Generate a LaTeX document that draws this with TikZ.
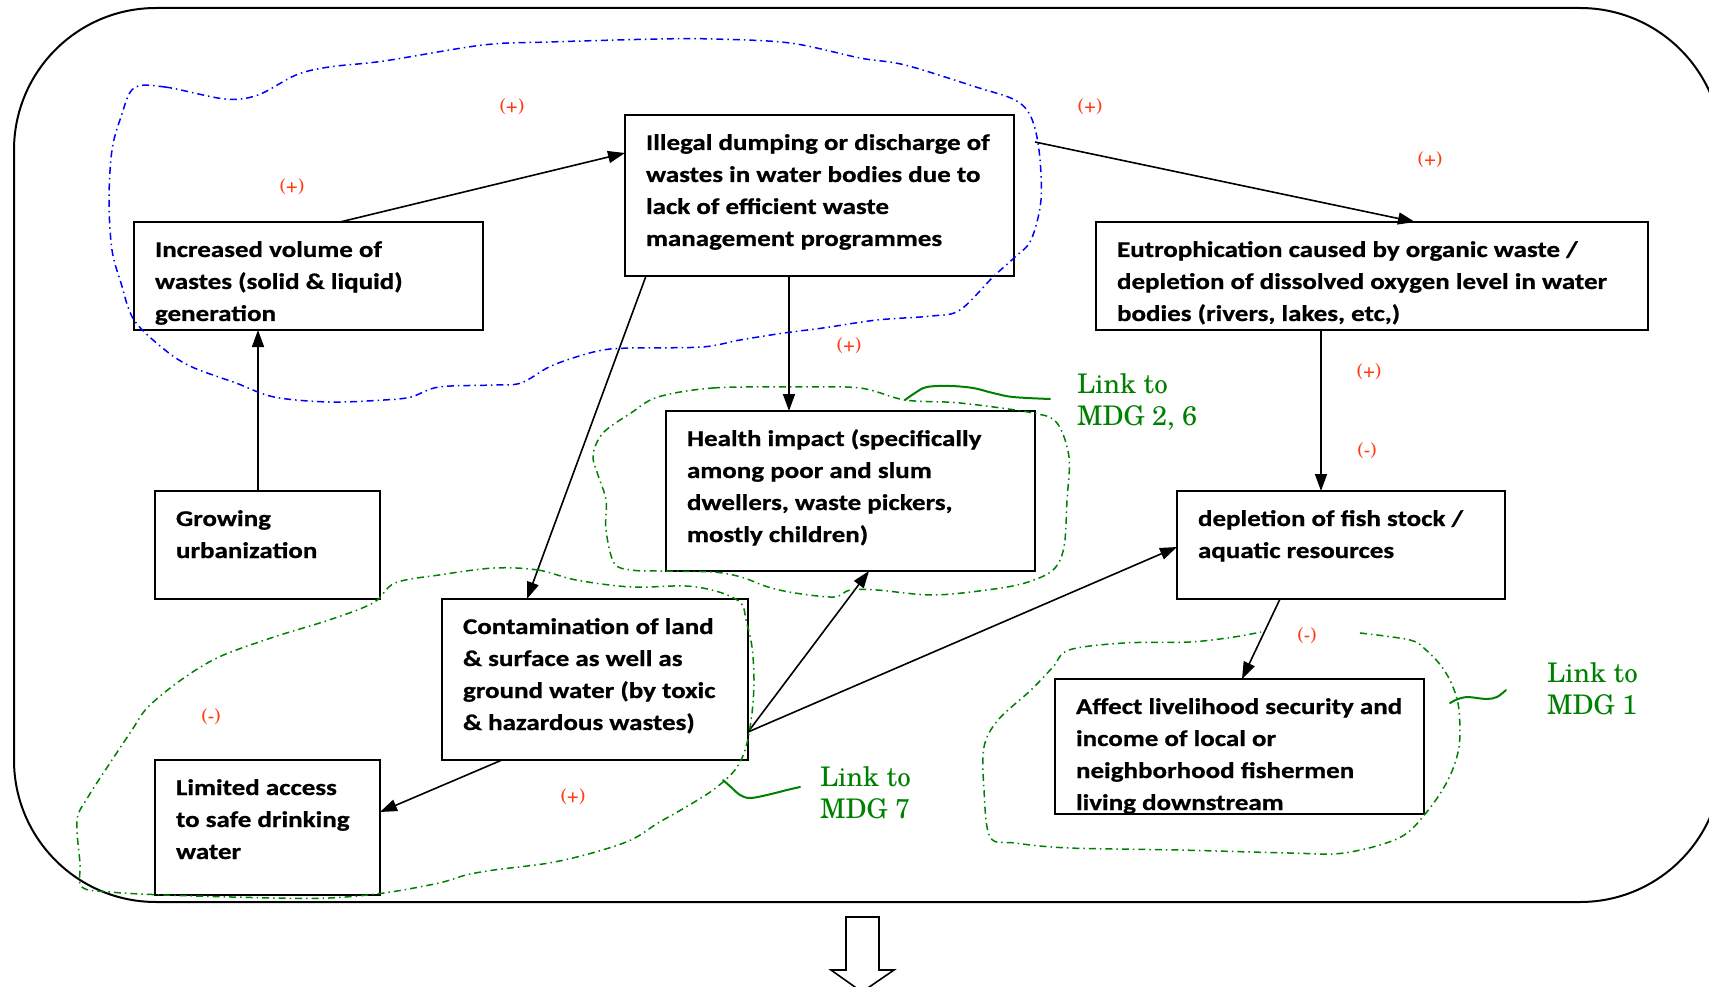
\documentclass[tikz,border=0pt]{standalone}
\usepackage{fontspec}
\newfontfamily\carl{Carlito}[FakeStretch=1.2, BoldFeatures={FakeBold=0.8}]
\newfontfamily\schola{texgyreschola-regular}[Extension=.otf]
\usetikzlibrary{arrows.meta,calc}
\definecolor{lblred}{RGB}{255,60,20}
\definecolor{lgreen}{RGB}{0,128,0}
\definecolor{lblue}{RGB}{0,0,255}
\newcommand{\bt}[3]{\begin{minipage}[c][#2pt][t]{#1pt}\rule{0pt}{35pt}\hspace*{21pt}\begin{tabular}[t]{@{}l@{}}#3\end{tabular}\end{minipage}}
\tikzset{
  bx/.style={draw, line width=2pt, inner sep=0pt, outer sep=0pt, anchor=north west, font=\carl\bfseries\fontsize{22.5}{32}\selectfont},
  arr/.style={line width=1.6pt, -{Triangle[length=17pt,width=12pt]}},
  sgn/.style={text=lblred, font=\schola\fontsize{19}{22}\selectfont, inner sep=0pt},
  lnk/.style={text=lgreen, font=\schola\fontsize{27}{32}\selectfont, inner sep=0pt, anchor=base west},
  loopb/.style={draw=lblue, line width=1.5pt, dash pattern=on 7pt off 4pt on 1.5pt off 4pt},
  loopg/.style={draw=lgreen, line width=1.5pt, dash pattern=on 7pt off 4pt on 1.5pt off 4pt},
  sq/.style={draw=lgreen, line width=2pt, line cap=round}
}
\begin{document}
\begin{tikzpicture}[x=1pt,y=-1pt]
\useasboundingbox (0,0) rectangle (1709,987);
\clip (0,0) rectangle (1709,987);
% outer frame
\draw[line width=2pt, rounded corners=142pt] (14,8) rectangle (1722,902);
% boxes
\node[bx] (b1) at (134,222) {\bt{349}{108}{Increased volume of\\wastes (solid \& liquid)\\generation}};
\node[bx] (b2) at (625,115) {\bt{389}{161}{Illegal dumping or discharge of\\wastes in water bodies due to\\lack of efficient waste\\management programmes}};
\node[bx] (eu) at (1096,222) {\bt{552}{108}{Eutrophication caused by organic waste /\\depletion of dissolved oxygen level in water\\bodies (rivers, lakes, etc,)}};
\node[bx] (he) at (666,411) {\bt{369}{160}{Health impact (specifically\\among poor and slum\\dwellers, waste pickers,\\mostly children)}};
\node[bx] (gr) at (155,491) {\bt{225}{108}{Growing\\urbanization}};
\node[bx] (fi) at (1177,491) {\bt{328}{108}{depletion of fish stock /\\aquatic resources}};
\node[bx] (co) at (442,599) {\bt{306}{161}{Contamination of land\\\& surface as well as\\ground water (by toxic\\\& hazardous wastes)}};
\node[bx] (li) at (155,760) {\bt{225}{135}{Limited access\\to safe drinking\\water}};
\node[bx] (af) at (1055,679) {\bt{369}{135}{Affect livelihood security and\\income of local or\\neighborhood fishermen\\living downstream}};
% arrows
\draw[arr] ($(b1.north west)+(206,0)$) -- ($(b2.north west)+(0,38)$);
\draw[arr] ($(b2.north west)+(410,27)$) -- ($(eu.north west)+(319,0)$);
\draw[arr] ($(b2.south west)+(164,0)$) -- ($(he.north west)+(123,0)$);
\draw[arr] ($(b2.south west)+(21,0)$) -- ($(co.north west)+(85,0)$);
\draw[arr] ($(gr.north west)+(103,0)$) -- ($(b1.south west)+(124,0)$);
\draw[arr] ($(eu.south west)+(225,0)$) -- ($(fi.north west)+(144,0)$);
\draw[arr] ($(co.north east)+(0,133)$) -- ($(he.south west)+(203,0)$);
\draw[arr] ($(co.north east)+(0,133)$) -- ($(fi.north west)+(0,56)$);
\draw[arr] ($(co.south west)+(60,0)$) -- ($(li.north east)+(0,52)$);
\draw[arr] ($(fi.south west)+(103,0)$) -- ($(af.north west)+(187,0)$);
% signs
\node[sgn] (s1) at (512,107) {(+)};
\node[sgn] (s2) at (292,187) {(+)};
\node[sgn] (s3) at (1090,107) {(+)};
\node[sgn] (s4) at (1430,160) {(+)};
\node[sgn] (s5) at (849,346) {(+)};
\node[sgn] (s6) at (1369,372) {(+)};
\node[sgn] (s7) at (1367,451) {(-)};
\node[sgn] (s8) at (211,717) {(-)};
\node[sgn] (s9) at (573,797) {(+)};
\node[sgn] (s10) at (1307,636) {(-)};
% link labels
\node[lnk] (l26) at (1077,393) {\begin{tabular}[t]{@{}l@{}}Link to\\MDG 2, 6\end{tabular}};
\node[lnk] (l7) at (820,786) {\begin{tabular}[t]{@{}l@{}}Link to\\MDG 7\end{tabular}};
\node[lnk] (l1) at (1547,682) {\begin{tabular}[t]{@{}l@{}}Link to\\MDG 1\end{tabular}};
% blue loop
\draw[loopb] plot[smooth cycle, tension=0.55] coordinates {
(134,88) (165,87) (225,99) (258,95) (296,75) (329,67) (384,61) (483,45) (549,42) (658,39) (713,39) (790,43) (860,58) (905,65) (976,87) (1015,100) (1031,117) (1039,150) (1041,200) (1031,240) (1015,257) (993,277) (960,310) (932,316) (877,320) (823,328) (784,333) (740,340) (702,347) (631,348) (603,350) (576,357) (549,367) (521,383) (494,385) (439,387) (411,397) (384,400) (329,402) (274,397) (236,383) (192,367) (165,350) (134,320) (121,283) (112,250) (109,200) (112,150) (121,117)};
% green loop around health
\draw[loopg] plot[smooth cycle, tension=0.55] coordinates {
(658,397) (713,388) (795,387) (860,388) (905,400) (960,403) (1033,413) (1057,423) (1069,457) (1067,500) (1064,547) (1053,570) (1025,583) (987,590) (932,595) (877,590) (850,590) (834,597) (795,593) (768,587) (741,577) (713,572) (658,571) (631,570) (614,563) (606,530) (606,500) (598,475) (593,455) (603,433) (631,413)};
% green loop bottom-left
\draw[loopg] plot[smooth cycle, tension=0.55] coordinates {
(494,568) (538,570) (576,580) (631,587) (686,586) (719,592) (741,603) (746,620) (752,647) (754,680) (752,713) (746,747) (735,770) (713,790) (686,807) (658,823) (631,840) (592,853) (549,863) (494,870) (466,875) (439,883) (384,893) (329,898) (274,898) (165,895) (110,892) (82,887) (80,863) (77,820) (88,797) (110,763) (132,730) (148,707) (181,680) (219,657) (274,637) (329,620) (373,603) (395,583) (439,575)};
% green loop around affect (open)
\draw[loopg] plot[smooth, tension=0.55] coordinates {
(1360,633) (1410,640) (1426,650) (1442,667) (1453,687) (1459,710) (1459,747) (1448,780) (1426,813) (1399,838) (1344,853) (1289,853) (1179,850) (1069,848) (1015,843) (990,837) (984,790) (984,747) (998,720) (1031,690) (1053,667) (1069,650) (1124,643) (1190,642) (1234,637) (1261,632)};
% squiggles
\draw[sq] plot[smooth, tension=0.6] coordinates {(905,400) (915,393) (927,387) (950,386) (973,388) (993,393) (1013,397) (1050,399)};
\draw[sq] plot[smooth, tension=0.6] coordinates {(723,780) (732,788) (740,795) (750,798) (767,795) (787,790) (800,787)};
\draw[sq] plot[smooth, tension=0.6] coordinates {(1450,703) (1458,699) (1467,697) (1477,698) (1487,699) (1497,697) (1506,690)};
% bottom hollow arrow
\draw[line width=1.6pt, line join=miter] (846,917) -- (879,917) -- (879,970) -- (894,970) -- (862,992) -- (831,970) -- (846,970) -- cycle;
\end{tikzpicture}
\end{document}
